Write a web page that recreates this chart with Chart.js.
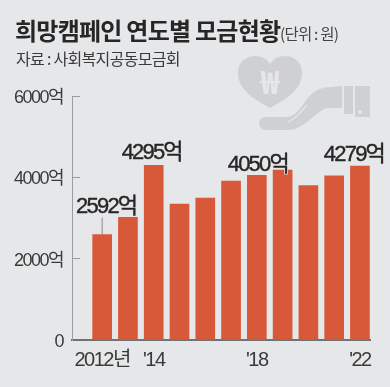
<!DOCTYPE html>
<html>
<head>
<meta charset="utf-8">
<title>희망캠페인 연도별 모금현황</title>
<script src="https://cdn.jsdelivr.net/npm/chart.js@4"></script>
<style>
    html, body { margin: 0; padding: 0; }
    body { width: 390px; height: 387px; background: #e6e7e9; overflow: hidden; position: relative; font-family: "Noto Sans CJK KR", sans-serif; color: #2b2b2b; }
    #wrap { position: absolute; left: 0; top: 0; width: 390px; height: 387px; }
    #title { position: absolute; left: 15px; top: 15px; font-size: 24px; font-weight: 700; letter-spacing: -0.75px; line-height: 30px; white-space: nowrap; color: #262626; }
    #title small { font-size: 15.5px; font-weight: 400; letter-spacing: -0.8px; color: #444; margin-left: -5px; }
    #source { position: absolute; left: 16px; top: 47px; font-size: 16px; letter-spacing: -0.7px; line-height: 22px; color: #3a3a3a; white-space: nowrap; }
    #icon { position: absolute; left: 225px; top: 45px; }
</style>
</head>
<body>
<svg id="icon" width="165" height="90" viewBox="0 0 165 90">
    <path d="M45 63 C28 54 13 44 13 28 C13 16 22 11 30 11 C37 11 42 14 45 19 C48 14 53 11 60 11 C69 11 77 17 77 28 C77 44 62 54 45 63 Z" fill="#cfd0d2"/>
    <text x="45" y="49" font-size="32" font-weight="700" text-anchor="middle" fill="#e6e7e9" font-family="Noto Sans CJK KR">₩</text>
    <path d="M41 72 L62 72 C70 72 76 62 82 54 C88 46 96 42 106 42 L117 41 L117 63 L102 63 C92 66 84 78 72 83 C68 85 64 85 60 85 L41 85 C32 85 32 72 41 72 Z" fill="#cfd0d2"/>
    <path d="M63 77 C72 74 76 66 82 60" fill="none" stroke="#e6e7e9" stroke-width="1.2"/>
    <rect x="119" y="41" width="9" height="28" fill="#cfd0d2"/>
    <rect x="130" y="41" width="15" height="31" fill="#cfd0d2"/>
    <circle cx="135" cy="67" r="2" fill="#e6e7e9"/>
</svg>
<div id="wrap"><canvas id="canvas" width="390" height="387"></canvas></div>
<div id="title">희망캠페인 연도별 모금현황 <small>(단위 : 원)</small></div>
<div id="source">자료 : 사회복지공동모금회</div>
<script>
var years = [2012, 2013, 2014, 2015, 2016, 2017, 2018, 2019, 2020, 2021, 2022];
var amounts = [2592, 3017, 4295, 3344, 3490, 3910, 4050, 4180, 3795, 4040, 4279];
var yTicks = [0, 2000, 4000, 6000];
var yLabels = { 0: "0", 2000: "2000억", 4000: "4000억", 6000: "6000억" };
var xTicks = [2012, 2014, 2018, 2022];
var xLabels = { 2012: "2012년", 2014: "'14", 2018: "'18", 2022: "'22" };
var callouts = { 2012: "2592억", 2014: "4295억", 2018: "4050억", 2022: "4279억" };

var labelFont = '"Liberation Sans", "Noto Sans CJK KR", sans-serif';

// where each value label sits relative to the top of its bar
var calloutShift = {
    2012: { dx: 4, dy: -22 },
    2014: { dx: -2, dy: -6 },
    2018: { dx: 1, dy: -4 },
    2022: { dx: -6, dy: -5 }
};

var calloutPlugin = {
    id: "callouts",
    beforeDraw: function(chart) {
        // chart.js has no option for this, tick text picks it up from the context
        chart.ctx.letterSpacing = "-1.5px";
    },
    afterDatasetsDraw: function(chart) {
        var ctx = chart.ctx;
        var xs = chart.scales.x, ys = chart.scales.y;
        ctx.save();
        ctx.font = "22px " + labelFont;
        ctx.letterSpacing = "-1.8px";
        ctx.textAlign = "center";
        ctx.textBaseline = "alphabetic";
        ctx.lineJoin = "round";
        years.forEach(function(year, i) {
            if (!callouts[year]) return;
            var px = xs.getPixelForValue(year);
            var py = ys.getPixelForValue(amounts[i]);
            var shift = calloutShift[year];
            // thin halo, it cuts a small notch where a label runs over a bar
            ctx.strokeStyle = "#e6e7e9";
            ctx.lineWidth = 2;
            ctx.strokeText(callouts[year], px + shift.dx, py + shift.dy);
            ctx.fillStyle = "#262626";
            ctx.strokeStyle = "#262626";
            ctx.lineWidth = 0.4;
            ctx.fillText(callouts[year], px + shift.dx, py + shift.dy);
            ctx.strokeText(callouts[year], px + shift.dx, py + shift.dy);
            if (year == 2012) {
                ctx.strokeStyle = "#8a8a8a";
                ctx.lineWidth = 1;
                ctx.beginPath();
                ctx.moveTo(px, py);
                ctx.lineTo(px, py - 17);
                ctx.stroke();
            }
        });
        ctx.restore();
    }
};

new Chart(document.getElementById("canvas").getContext("2d"), {
    type: "bar",
    data: {
        datasets: [{
            data: years.map(function(y, i) { return { x: y, y: amounts[i] }; }),
            backgroundColor: "#d8593a",
            barThickness: 19
        }]
    },
    options: {
        responsive: false,
        animation: false,
        layout: { padding: { left: 0, right: 20, top: 96, bottom: 0 } },
        plugins: { legend: { display: false }, tooltip: { enabled: false } },
        scales: {
            x: {
                type: "linear",
                offset: false,
                min: 2010.83,
                max: 2022.39,
                afterBuildTicks: function(axis) {
                    axis.ticks = xTicks.map(function(v) { return { value: v }; });
                },
                afterFit: function(axis) { axis.height = 47; },
                grid: { display: false, drawTicks: false },
                border: { color: "#6f7173", width: 2 },
                ticks: {
                    color: "#3a3a3a",
                    font: { family: labelFont, size: 20 },
                    maxRotation: 0,
                    autoSkip: false,
                    padding: 8,
                    callback: function(v) { return xLabels[v]; }
                }
            },
            y: {
                min: 0,
                max: 6000,
                afterBuildTicks: function(axis) {
                    axis.ticks = yTicks.map(function(v) { return { value: v }; });
                },
                afterFit: function(axis) { axis.width = 72; },
                grid: { drawOnChartArea: false, tickLength: -8, color: "#9a9c9e" },
                border: { color: "#9a9c9e", width: 1 },
                ticks: {
                    color: "#3a3a3a",
                    font: { family: labelFont, size: 18 },
                    padding: 17,
                    labelOffset: 2,
                    callback: function(v) { return yLabels[v]; }
                }
            }
        }
    },
    plugins: [calloutPlugin]
});
</script>
</body>
</html>
